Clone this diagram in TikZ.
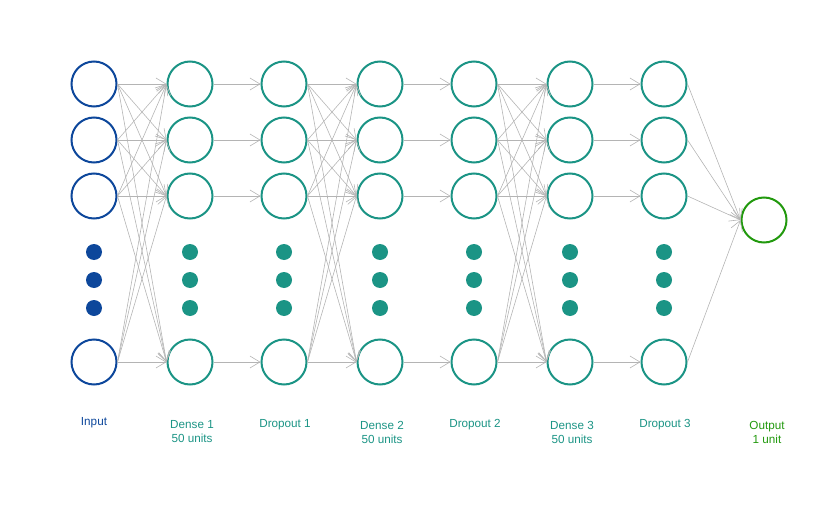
\documentclass[tikz,border=0pt]{standalone}
\usepackage{fontspec}
\setmainfont{Liberation Sans}
\usetikzlibrary{arrows.meta}
\definecolor{inblue}{RGB}{13,71,155}
\definecolor{layerteal}{RGB}{27,148,133}
\definecolor{outgreen}{RGB}{34,153,14}
\definecolor{edgegray}{RGB}{180,180,180}
\tikzset{
  unit/.style={circle, draw, line width=2pt, minimum size=45pt, inner sep=0pt},
  dot/.style={circle, fill, minimum size=16pt, inner sep=0pt},
  link/.style={draw=edgegray, line width=0.6pt, -{Straight Barb[length=10pt,width=12pt]}},
  lbl/.style={font=\fontsize{11.7}{14}\selectfont, align=center}
}
\begin{document}
\begin{tikzpicture}[x=1pt,y=-1pt]
  \useasboundingbox (0,0) rectangle (840,508);
  \foreach \c/\x/\col in {0/94/inblue,1/190/layerteal,2/284/layerteal,3/380/layerteal,4/474/layerteal,5/570/layerteal,6/664/layerteal}{
    \foreach \r/\y in {1/84,2/140,3/196,4/362}
      \node[unit, draw=\col] (n\c\r) at (\x,\y) {};
    \foreach \d/\y in {1/252,2/280,3/308}
      \node[dot, fill=\col] (dot\c\d) at (\x,\y) {};
  }
  \node[unit, draw=outgreen] (out) at (764,220) {};

  \foreach \a/\b in {0/1,2/3,4/5}
    \foreach \i in {1,...,4}
      \foreach \j in {1,...,4}
        \draw[link] (n\a\i.east) -- (n\b\j.west);
  \foreach \a/\b in {1/2,3/4,5/6}
    \foreach \i in {1,...,4}
      \draw[link] (n\a\i.east) -- (n\b\i.west);
  \foreach \i in {1,...,4}
    \draw[link] (n6\i.east) -- (out.west);

  \node[lbl, text=inblue] (lin) at (94,423) {Input};
  \node[lbl, text=layerteal] (ld1) at (192,432) {Dense 1\\50 units};
  \node[lbl, text=layerteal] (lp1) at (285,425) {Dropout 1};
  \node[lbl, text=layerteal] (ld2) at (382,432) {Dense 2\\50 units};
  \node[lbl, text=layerteal] (lp2) at (475,425) {Dropout 2};
  \node[lbl, text=layerteal] (ld3) at (572,432) {Dense 3\\50 units};
  \node[lbl, text=layerteal] (lp3) at (665,425) {Dropout 3};
  \node[lbl, text=outgreen] (lout) at (767,432) {Output\\1 unit};
\end{tikzpicture}
\end{document}
